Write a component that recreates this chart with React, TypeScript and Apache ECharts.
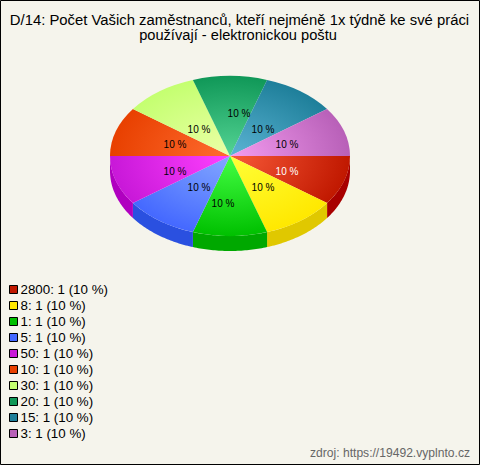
import React, { useEffect, useRef } from "react";
import * as echarts from "echarts";

const CATEGORIES = ["2800", "8", "1", "5", "50", "10", "30", "20", "15", "3"];
const VALUES = [1, 1, 1, 1, 1, 1, 1, 1, 1, 1];
const TITLE_LINES = ["D/14: Počet Vašich zaměstnanců, kteří nejméně 1x týdně ke své práci", "používají - elektronickou poštu"];
const SOURCE = "zdroj: https://19492.vyplnto.cz";

const EDGE_COLORS = ["#c01800", "#ffe800", "#00c000", "#4468ff", "#c818d8", "#e84000", "#c4ff70", "#109858", "#1e7f9a", "#b860b8"];
const CENTER_COLORS = ["#f85a38", "#ffff38", "#44ff44", "#84a8ff", "#ff40ff", "#ff6c30", "#ecffa8", "#54d494", "#5cb4d4", "#f49cf0"];
const SIDE_COLORS = ["#a80000", "#e0c800", "#00a800", "#2a50e0", "#b000c0", "#b83000", "#98cc50", "#087040", "#146078", "#904890"];
const LABEL_OFFSETS = [[57, 15], [33, 31], [-7, 47], [-31, 31], [-55, 15], [-55, -12], [-31, -27], [9, -43], [33, -27], [57, -12]];

const FONT = "Liberation Sans, Arial, sans-serif";
const CX = 230, CY = 156, RX = 120, RY = 80, DEPTH = 15;
const total = VALUES.reduce((a, b) => a + b, 0);

function renderSlice(index: number, api: any) {
  const before = VALUES.slice(0, index).reduce((a, b) => a + b, 0);
  const value = api.value(0) as number;
  const a0 = (before / total) * Math.PI * 2;
  const a1 = ((before + value) / total) * Math.PI * 2;
  const children: any[] = [];
  const lo = Math.max(a0, 0), hi = Math.min(a1, Math.PI);
  if (hi > lo) {
    const top: number[][] = [], bottom: number[][] = [];
    const steps = 40;
    for (let s = 0; s <= steps; s++) {
      const t = lo + ((hi - lo) * s) / steps;
      const x = CX + RX * Math.cos(t), y = CY + RY * Math.sin(t);
      top.push([x, y]);
      bottom.unshift([x, y + DEPTH]);
    }
    children.push({ type: "polygon", shape: { points: top.concat(bottom) }, style: { fill: SIDE_COLORS[index] } });
  }
  children.push({
    type: "group", x: CX, y: CY, scaleY: RY / RX,
    children: [{
      type: "sector",
      shape: { cx: 0, cy: 0, r0: 0, r: RX, startAngle: a0, endAngle: a1, clockwise: true },
      style: {
        fill: {
          type: "radial", x: 0, y: 0, r: RX, global: true,
          colorStops: [{ offset: 0, color: CENTER_COLORS[index] }, { offset: 1, color: EDGE_COLORS[index] }],
        },
      },
    }],
  });
  const [dx, dy] = LABEL_OFFSETS[index];
  children.push({
    type: "text", z2: 10,
    style: {
      text: `${Math.round((value / total) * 100)} %`, x: CX + dx, y: CY + dy,
      align: "center", verticalAlign: "middle",
      fill: index === 0 ? "#ffffff" : "#000000", font: `10px ${FONT}`,
    },
  });
  return { type: "group", children };
}

export default function App() {
  const ref = useRef<HTMLDivElement>(null);
  useEffect(() => {
    const chart = echarts.init(ref.current!, undefined, { renderer: "svg" });
    const names = CATEGORIES.map((c, i) => `${c}: ${VALUES[i]} (${Math.round((VALUES[i] / total) * 100)} %)`);
    chart.setOption({
      animation: false,
      backgroundColor: "#f5f4ec",
      legend: {
        orient: "vertical", left: 4, top: 278, itemWidth: 8, itemHeight: 8, itemGap: 3,
        icon: "rect", selectedMode: false, data: names,
        itemStyle: { borderColor: "#000", borderWidth: 1 },
        textStyle: { fontFamily: FONT, fontSize: 13.33, color: "#000", lineHeight: 13, padding: [0, 0, 0, -2] },
      },
      graphic: [
        { type: "rect", silent: true, z: 100, shape: { x: 0.5, y: 0.5, width: 479, height: 464 }, style: { fill: "none", stroke: "#000", lineWidth: 1 } },
        { type: "text", silent: true, x: 239.5, y: 20, style: { text: TITLE_LINES[0], align: "center", verticalAlign: "middle", font: `14.85px ${FONT}`, fill: "#000" } },
        { type: "text", silent: true, x: 238, y: 35, style: { text: TITLE_LINES[1], align: "center", verticalAlign: "middle", font: `14.65px ${FONT}`, fill: "#000" } },
        { type: "text", silent: true, x: 470, y: 453, style: { text: SOURCE, align: "right", verticalAlign: "middle", font: `12.1px ${FONT}`, fill: "#666" } },
      ],
      series: CATEGORIES.map((_, i) => ({
        type: "custom", name: names[i], coordinateSystem: "none",
        itemStyle: { color: EDGE_COLORS[i] },
        data: [[VALUES[i]]],
        renderItem: (_p: any, api: any) => renderSlice(i, api),
      })),
    });
    return () => chart.dispose();
  }, []);
  return <div ref={ref} style={{ position: "absolute", left: 0, top: 0, width: 480, height: 465 }} />;
}
